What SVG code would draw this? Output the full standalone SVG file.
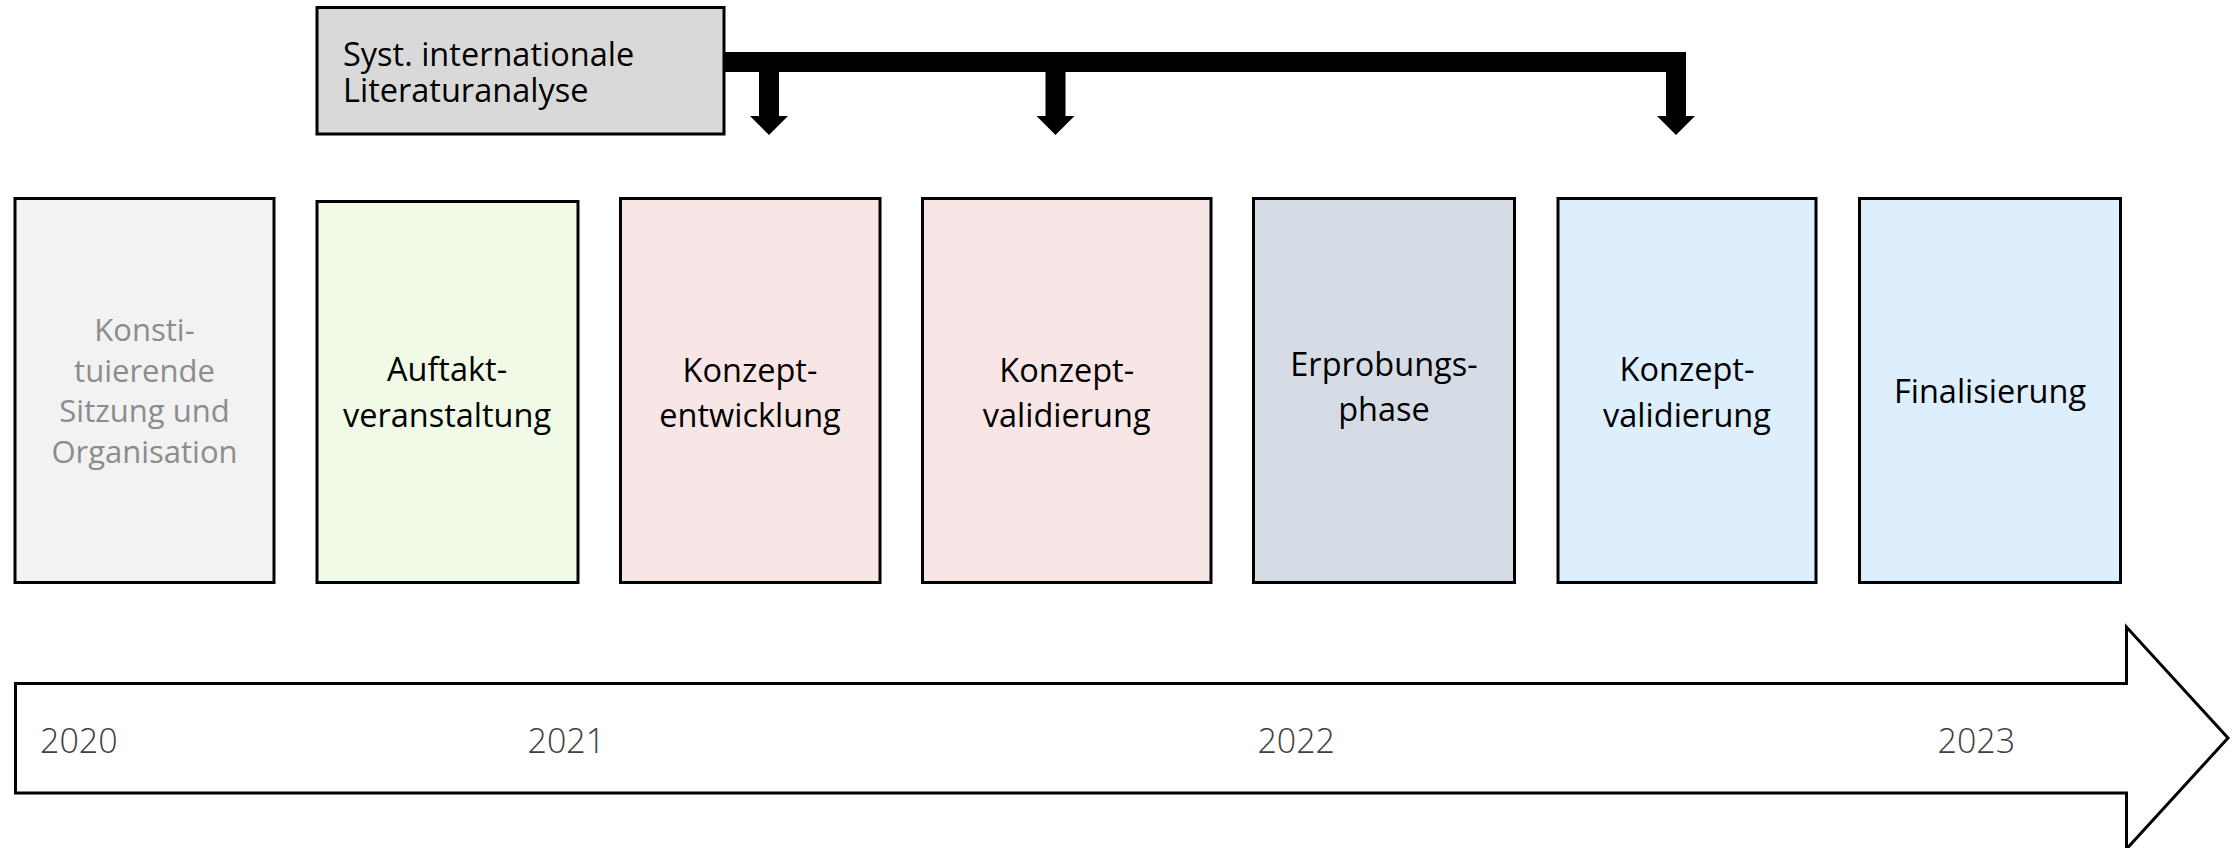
<svg xmlns="http://www.w3.org/2000/svg" width="2232" height="848" viewBox="0 0 2232 848">
<style>
.box{stroke:#000;stroke-width:3}
.t{font-family:"Open Sans","Noto Sans","Liberation Sans",sans-serif;font-size:32.5px;fill:#000;text-anchor:middle}
.g{font-size:31px;fill:#8c8c8c}
.yr{font-family:"Open Sans","Noto Sans","Liberation Sans",sans-serif;font-size:34px;font-weight:300;fill:#404040}
.lit{font-family:"Open Sans","Noto Sans","Liberation Sans",sans-serif;font-size:32.5px;fill:#000}
.conn{fill:none;stroke:#000;stroke-width:20;stroke-linejoin:miter;stroke-linecap:butt}
</style>
<defs>
<marker id="ah" markerUnits="userSpaceOnUse" markerWidth="19" markerHeight="38" viewBox="0 -19 19 38" refX="0" refY="0" orient="auto" overflow="visible">
<path d="M0,-19 L19,0 L0,19 Z" fill="#000"/>
</marker>
</defs>
<rect width="2232" height="848" fill="#fff"/>

<g id="timeline">
<polygon points="15.5,683.5 2126.5,683.5 2126.5,627 2228,738 2126.5,849 2126.5,793 15.5,793" fill="#fff" stroke="#000" stroke-width="3"/>
<text class="yr" x="40" y="752.7">2020</text>
<text class="yr" x="527.5" y="752.7">2021</text>
<text class="yr" x="1257.4" y="752.7">2022</text>
<text class="yr" x="1937.5" y="752.7">2023</text>
</g>

<g id="connectors">
<path class="conn" d="M724,62 H1676 V116" marker-end="url(#ah)"/>
<path class="conn" d="M769,70 V116" marker-end="url(#ah)"/>
<path class="conn" d="M1055.5,70 V116" marker-end="url(#ah)"/>
</g>

<g id="literatur">
<rect class="box" x="317" y="7.5" width="407" height="126.5" fill="#d9d9d9"/>
<text class="lit" x="343" y="65.7">Syst. internationale</text>
<text class="lit" x="343" y="101.7">Literaturanalyse</text>
</g>

<g id="konstituierende">
<rect class="box" x="15" y="198.5" width="259" height="384" fill="#f2f2f2"/>
<text class="t g" x="144.5" y="341">Konsti-</text>
<text class="t g" x="144.5" y="381.5">tuierende</text>
<text class="t g" x="144.5" y="422">Sitzung und</text>
<text class="t g" x="144.5" y="462.5">Organisation</text>
</g>

<g id="auftakt">
<rect class="box" x="317" y="201.5" width="261" height="381" fill="#f1fae6"/>
<text class="t" x="447" y="381">Auftakt-</text>
<text class="t" x="447" y="426.5">veranstaltung</text>
</g>

<g id="konzeptentwicklung">
<rect class="box" x="620.5" y="198.5" width="259.5" height="384" fill="#f8e6e6"/>
<text class="t" x="750" y="381.5">Konzept-</text>
<text class="t" x="750" y="426.5">entwicklung</text>
</g>

<g id="konzeptvalidierung1">
<rect class="box" x="922.5" y="198.5" width="288.5" height="384" fill="#f8e6e6"/>
<text class="t" x="1066.7" y="381.5">Konzept-</text>
<text class="t" x="1066.7" y="426.5">validierung</text>
</g>

<g id="erprobung">
<rect class="box" x="1253.5" y="198.5" width="261" height="384" fill="#d6dce5"/>
<text class="t" x="1384" y="376">Erprobungs-</text>
<text class="t" x="1384" y="421">phase</text>
</g>

<g id="konzeptvalidierung2">
<rect class="box" x="1558" y="198.5" width="258" height="384" fill="#ddeefc"/>
<text class="t" x="1687" y="381">Konzept-</text>
<text class="t" x="1687" y="426.5">validierung</text>
</g>

<g id="finalisierung">
<rect class="box" x="1859.5" y="198.5" width="261" height="384" fill="#ddeefc"/>
<text class="t" x="1990" y="402.5">Finalisierung</text>
</g>
</svg>
